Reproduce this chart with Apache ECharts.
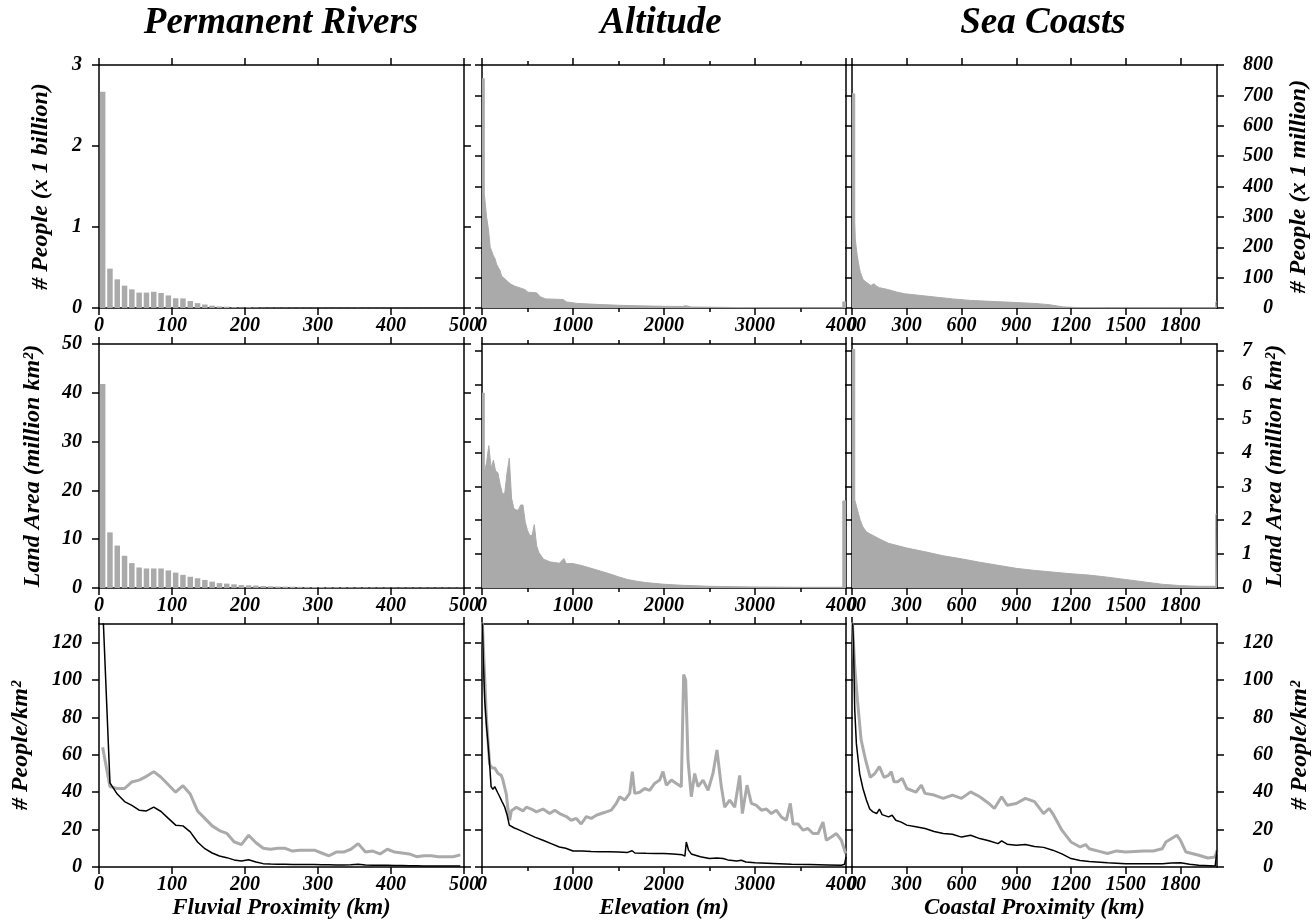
<!DOCTYPE html>
<html>
<head>
<meta charset="utf-8">
<script src="https://cdn.jsdelivr.net/npm/echarts@6/dist/echarts.min.js"></script>
<style>
html, body { margin: 0; background: #fff; }
#chart { width: 1315px; height: 923px; }
</style>
</head>
<body>
<div id="chart"></div>
<script>
// ---- data ----
// Permanent rivers, 10 km bins (centres)
var riverBins = [5, 15, 25, 35, 45, 55, 65, 75, 85, 95, 105, 115, 125, 135, 145, 155, 165, 175, 185, 195,
  205, 215, 225, 235, 245, 255, 265, 275, 285, 295, 305, 315, 325, 335, 345, 355, 365, 375, 385, 395,
  405, 415, 425, 435, 445, 455, 465, 475, 485, 495];
// people, billions
var riverPeople = [2.67, 0.486, 0.354, 0.276, 0.23, 0.19, 0.19, 0.2, 0.185, 0.155, 0.12, 0.118, 0.086, 0.06, 0.043,
  0.029, 0.02, 0.016, 0.01, 0.007, 0.009, 0.0065, 0.004, 0.0033, 0.003, 0.0028, 0.0022, 0.0022, 0.002, 0.0018,
  0.0014, 0.0011, 0.0014, 0.0013, 0.0014, 0.0018, 0.0011, 0.0011, 0.0008, 0.0011, 0.0009, 0.0008, 0.0007,
  0.0006, 0.0005, 0.0005, 0.0005, 0.0005, 0.0004, 0.0005];
// land area, million km2
var riverArea = [41.8, 11.4, 8.7, 6.6, 5.1, 4.2, 4.0, 4.0, 4.0, 3.6, 3.15, 2.7, 2.3, 2.0, 1.65, 1.3, 1.0, 0.9,
  0.75, 0.6, 0.55, 0.5, 0.4, 0.35, 0.3, 0.28, 0.26, 0.24, 0.22, 0.2, 0.19, 0.18, 0.17, 0.16, 0.15, 0.14, 0.14,
  0.13, 0.12, 0.12, 0.11, 0.11, 0.1, 0.1, 0.1, 0.09, 0.09, 0.09, 0.08, 0.08];
// people per km2 (grey = bin density, black = second measure)
var riverDensGrey = [64, 43, 42, 42, 45.5, 46.5, 48.5, 51, 48, 44, 40, 43.5, 39, 30, 26, 22, 19.5, 18, 13.5, 12,
  17, 13, 10, 9.5, 10, 10, 8.5, 9, 9, 9, 7.5, 6, 8, 8, 9.5, 12.5, 8, 8.5, 7, 9.5, 8, 7.5, 7, 5.5, 6, 6, 5.5,
  5.5, 5.5, 6.5];
var riverDensBlack = [140, 45, 39, 35, 33, 30.4, 30, 32, 29.7, 26, 22.4, 22, 18.8, 13.4, 9.8, 7.5, 5.9, 5, 3.8,
  3.2, 3.9, 2.7, 1.8, 1.6, 1.5, 1.5, 1.4, 1.4, 1.3, 1.3, 1.2, 1.2, 1.1, 1.1, 1.2, 1.5, 1.1, 1.0, 0.9, 0.9, 0.8,
  0.8, 0.7, 0.7, 0.6, 0.6, 0.6, 0.5, 0.5, 0.5];

// Altitude (m): histogram outlines (first and last bins drawn as blocks)
var altPeopleX = [0, 25, 25, 50, 70, 90, 105, 125, 145, 160, 180, 200, 215, 255, 290, 320, 360, 470, 505, 600,
  640, 700, 890, 930, 1050, 1250, 1500, 1750, 2000, 2200, 2240, 2300, 2500, 2750, 3000, 3500, 3965, 3965, 4000];
var altPeopleY = [755, 755, 378, 300, 261, 200, 189, 172, 161, 144, 133, 122, 105, 95, 85, 78, 72, 61, 52, 50,
  37, 30, 28, 20, 15, 12, 9, 7, 5.5, 5, 7.7, 3.3, 2.5, 1.8, 1.2, 0.8, 0.8, 20, 20];
var altAreaX = [0, 25, 25, 50, 75, 100, 125, 150, 175, 200, 225, 250, 275, 300, 325, 350, 375, 400, 425, 450,
  475, 500, 525, 550, 575, 600, 625, 650, 675, 750, 800, 850, 900, 925, 1000, 1100, 1200, 1300, 1400, 1500,
  1600, 1700, 1800, 2000, 2200, 2500, 3000, 3500, 3965, 3965, 4000];
var altAreaY = [5.75, 5.75, 3.4, 3.7, 4.2, 3.55, 3.77, 3.45, 3.4, 3.05, 2.77, 2.8, 3.4, 3.83, 2.65, 2.35, 2.3,
  2.3, 2.45, 2.45, 1.95, 1.7, 1.55, 1.55, 1.87, 1.25, 1.05, 0.95, 0.85, 0.77, 0.75, 0.73, 0.87, 0.72, 0.72,
  0.66, 0.58, 0.5, 0.42, 0.33, 0.25, 0.2, 0.16, 0.11, 0.08, 0.05, 0.03, 0.02, 0.02, 2.57, 2.57];
var altGreyX = [0, 48, 84, 110, 140, 176, 212, 230, 267, 285, 304, 322, 377, 450, 487, 542, 597, 670, 744, 800,
  853, 927, 980, 1036, 1090, 1146, 1200, 1256, 1311, 1366, 1421, 1476, 1513, 1568, 1623, 1652, 1678, 1733,
  1787, 1842, 1897, 1952, 1989, 2026, 2081, 2136, 2190, 2216, 2238, 2264, 2300, 2337, 2374, 2429, 2484, 2538,
  2582, 2630, 2667, 2722, 2777, 2832, 2861, 2912, 2960, 3015, 3070, 3125, 3180, 3234, 3289, 3344, 3388, 3418,
  3473, 3527, 3582, 3637, 3692, 3747, 3784, 3839, 3894, 3949, 3996];
var altGreyY = [135, 80, 55, 53, 53, 50, 49, 46.5, 39, 31, 25, 30, 32, 30, 32, 31, 29.5, 31, 28.6, 30.4, 28.6,
  27, 25, 26, 23, 27, 26, 27.7, 28.6, 29.5, 30.4, 34, 37.6, 35.8, 39.4, 51, 39.4, 40, 42, 41, 44.7, 46.5, 51,
  43.8, 46.5, 44.7, 43, 103, 100, 57, 37.6, 50, 43, 46.5, 41, 50, 62.6, 43, 32, 35.8, 32, 49, 28.6, 43.8, 34,
  33, 30.4, 31, 28.6, 30.4, 26.8, 25, 34, 23, 23, 19.7, 20.6, 17.9, 17.9, 24, 14.3, 16, 17.9, 14.3, 7.2];
var altBlackX = [0, 15, 30, 50, 66, 85, 100, 120, 140, 170, 195, 220, 250, 275, 300, 350, 400, 490, 580, 670,
  760, 850, 920, 940, 1000, 1100, 1200, 1300, 1400, 1500, 1600, 1650, 1680, 1700, 1800, 1900, 2000, 2100,
  2200, 2230, 2245, 2270, 2300, 2400, 2500, 2580, 2600, 2650, 2700, 2800, 2850, 2870, 2900, 3000, 3200, 3400,
  3600, 3800, 3950, 3985, 4000];
var altBlackY = [140, 110, 89, 75, 66, 54, 43, 41.5, 43, 40, 37.6, 35, 32, 28, 22.4, 21, 20, 18, 16, 14.3, 12.5,
  10.7, 10, 11, 8.6, 8.5, 8.3, 8.2, 8.1, 8, 7.8, 8.7, 7.5, 7.3, 7.3, 7.2, 7.2, 7, 6.5, 5.8, 13.4, 9, 7, 5.5,
  4.5, 4.8, 5.3, 4.5, 3.8, 3.2, 3.6, 2.8, 2.7, 2.3, 1.9, 1.5, 1.3, 1.1, 0.9, 1.5, 5.4];

// Sea coasts (km)
var coastPeopleX = [0, 15, 15, 18, 24, 29, 35, 40, 46, 53, 60, 68, 82, 104, 120, 135, 150, 196, 242, 287, 379,
  470, 550, 650, 790, 900, 1000, 1080, 1120, 1160, 1220, 1400, 1800, 1993, 1993, 2000];
var coastPeopleY = [705, 705, 283, 228, 194, 172, 150, 133, 117, 106, 94, 89, 83, 74, 80, 72, 67, 61, 53, 47, 41,
  35, 30, 25, 21, 18, 15, 11, 7, 3.5, 1.8, 1.2, 0.9, 0.9, 20, 20];
var coastAreaX = [0, 15, 15, 25, 35, 45, 60, 80, 115, 150, 200, 300, 400, 500, 600, 700, 800, 900, 1000, 1100,
  1200, 1300, 1400, 1500, 1600, 1700, 1800, 1900, 1993, 1993, 2000];
var coastAreaY = [7.04, 7.04, 2.6, 2.4, 2.2, 2.0, 1.8, 1.65, 1.55, 1.45, 1.32, 1.18, 1.07, 0.95, 0.86, 0.76,
  0.67, 0.58, 0.52, 0.47, 0.42, 0.38, 0.32, 0.25, 0.18, 0.11, 0.07, 0.05, 0.05, 2.18, 2.18];
var coastGreyX = [0, 15, 30, 50, 75, 100, 125, 150, 175, 200, 215, 230, 250, 275, 300, 350, 380, 400, 450, 500,
  550, 600, 650, 700, 750, 780, 820, 850, 900, 950, 1000, 1050, 1080, 1100, 1150, 1200, 1250, 1280, 1300, 1350,
  1400, 1450, 1500, 1550, 1600, 1650, 1700, 1720, 1780, 1800, 1830, 1900, 1950, 1990, 2000];
var coastGreyY = [135, 107, 89, 68, 57, 48, 50, 53.7, 48, 49, 51, 45.6, 45.6, 47.4, 42, 40, 43.8, 39.4, 38.5,
  36.7, 38.5, 36.7, 40.2, 37.6, 34, 31.3, 37.6, 33, 34, 36.7, 35, 28.6, 31.3, 28.6, 19.7, 13.4, 10.7, 12, 9.8,
  8.5, 7.2, 8.6, 8, 8.3, 8.6, 8.6, 9.8, 13.4, 17, 14.3, 8, 6.3, 4.8, 5.4, 9];
var coastBlackX = [0, 8, 15, 24, 42, 60, 79, 97, 115, 135, 150, 165, 200, 220, 240, 270, 300, 350, 400, 450,
  500, 550, 600, 650, 700, 750, 800, 820, 850, 900, 950, 1000, 1050, 1100, 1150, 1200, 1250, 1300, 1400, 1500,
  1600, 1700, 1750, 1800, 1850, 1900, 1990, 2000];
var coastBlackY = [140, 120, 84, 66, 50, 42, 35.8, 31, 29.5, 28.6, 31, 28, 26.8, 27.7, 25, 24, 22.4, 21.5, 20.6,
  19, 17.9, 17.5, 16, 17, 15.2, 14, 12.5, 14, 12.2, 11.6, 12, 11, 10.5, 9, 7, 4.5, 3.5, 3, 2.3, 1.8, 1.8, 1.8,
  2.2, 2.3, 1.5, 0.9, 0.5, 9];

// tick positions
var riverTicks = [0, 100, 200, 300, 400, 500];
var altTicks = [0, 1000, 2000, 3000, 4000];
var coastTicks = [0, 300, 600, 900, 1200, 1500, 1800];
var billionTicks = [0, 1, 2, 3];
var millionTicks = [0, 100, 200, 300, 400, 500, 600, 700, 800];
var areaLeftTicks = [0, 10, 20, 30, 40, 50];
var areaRightTicks = [0, 1, 2, 3, 4, 5, 6, 7];
var densTicks = [0, 20, 40, 60, 80, 100, 120];

// ---- chart ----
var FONT = 'Liberation Serif';
var GREY = '#aaaaaa';
function txt(size) {
  return { fontFamily: FONT, fontStyle: 'italic', fontWeight: 'bold', fontSize: size, color: '#000' };
}
function plain(v) { return String(v); }
function zip(xs, ys) { return xs.map(function (x, i) { return [x, ys[i]]; }); }

var cols = [{ left: 99, width: 365 }, { left: 482, width: 364 }, { left: 852, width: 365 }];
var rows = [{ top: 65, height: 243 }, { top: 344, height: 244 }, { top: 624, height: 243 }];

var grids = [], xAxes = [], yAxes = [], series = [];
var axLine = { onZero: false, lineStyle: { color: '#000', width: 1.5 } };
function tick(vals) {
  return { show: true, inside: false, length: 7, customValues: vals, lineStyle: { color: '#000', width: 1.5 } };
}
function xTicks(o) {
  var t = tick(o.xTicks);
  if (o.minor) { delete t.customValues; }
  return t;
}
var minor = { show: true, splitNumber: 2, length: 4, lineStyle: { color: '#000', width: 1.5 } };

function panel(r, c, o) {
  var g = grids.length;
  grids.push({ left: cols[c].left, width: cols[c].width, top: rows[r].top, height: rows[r].height });
  xAxes.push({
    gridIndex: g, type: 'value', position: 'bottom', min: 0, max: o.xMax, interval: o.xStep,
    axisLine: axLine, axisTick: xTicks(o), minorTick: o.minor ? minor : { show: false },
    splitLine: { show: false },
    axisLabel: Object.assign(txt(20), { customValues: o.xTicks, margin: 8, formatter: plain }),
    name: o.xName || '', nameLocation: 'middle', nameGap: 30, nameTextStyle: txt(23)
  });
  xAxes.push({
    gridIndex: g, type: 'value', position: 'top', min: 0, max: o.xMax, interval: o.xStep,
    axisLine: axLine, axisTick: xTicks(o), minorTick: o.minor ? minor : { show: false },
    splitLine: { show: false }, axisLabel: { show: false }
  });
  yAxes.push({
    gridIndex: g, type: 'value', position: 'left', min: 0, max: o.lMax,
    axisLine: axLine, axisTick: tick(o.lTicks), splitLine: { show: false },
    axisLabel: o.lName ? Object.assign(txt(20), { customValues: o.lTicks, margin: 17, formatter: plain }) : { show: false },
    name: o.lName || '', nameLocation: 'middle', nameRotate: 90, nameGap: o.lGap || 0, nameTextStyle: txt(24)
  });
  yAxes.push({
    gridIndex: g, type: 'value', position: 'right', min: 0, max: o.rMax,
    axisLine: axLine, axisTick: tick(o.rTicks), splitLine: { show: false },
    axisLabel: o.rName ? Object.assign(txt(20), { customValues: o.rTicks, margin: o.rMargin, align: o.rAlign, formatter: plain }) : { show: false },
    name: o.rName || '', nameLocation: 'middle', nameRotate: 90, nameGap: o.rGap || 0, nameTextStyle: txt(24)
  });
  return g;
}

function bars(g, yIdx, data) {
  series.push({ type: 'bar', xAxisIndex: 2 * g, yAxisIndex: 2 * g + yIdx, data: data, barWidth: 5.5,
    itemStyle: { color: GREY } });
}
function area(g, yIdx, data) {
  series.push({ type: 'line', xAxisIndex: 2 * g, yAxisIndex: 2 * g + yIdx, data: data,
    symbol: 'none', lineStyle: { color: GREY, width: 1 }, areaStyle: { color: GREY, opacity: 1 } });
}
function line(g, data, color, width) {
  series.push({ type: 'line', xAxisIndex: 2 * g, yAxisIndex: 2 * g, data: data, symbol: 'none',
    lineStyle: { color: color, width: width } });
}

var river = { xMax: 500, xStep: 100, xTicks: riverTicks };
var alt = { xMax: 4000, xStep: 1000, xTicks: altTicks, minor: true };
var coast = { xMax: 2000, xStep: 300, xTicks: coastTicks };

// row 1: people
var g = panel(0, 0, Object.assign({}, river, { lMax: 3, lTicks: billionTicks, rMax: 3, rTicks: billionTicks,
  lName: '# People (x 1 billion)', lGap: 46 }));
bars(g, 0, zip(riverBins, riverPeople));
g = panel(0, 1, Object.assign({}, alt, { lMax: 800, lTicks: millionTicks, rMax: 800, rTicks: millionTicks }));
area(g, 1, zip(altPeopleX, altPeopleY));
g = panel(0, 2, Object.assign({}, coast, { lMax: 800, lTicks: millionTicks, rMax: 800, rTicks: millionTicks,
  rName: '# People (x 1 million)', rGap: 70, rMargin: 56, rAlign: 'right' }));
area(g, 1, zip(coastPeopleX, coastPeopleY));

// row 2: land area
g = panel(1, 0, Object.assign({}, river, { lMax: 50, lTicks: areaLeftTicks, rMax: 50, rTicks: areaLeftTicks,
  lName: 'Land Area (million km\u00b2)', lGap: 54 }));
bars(g, 0, zip(riverBins, riverArea));
g = panel(1, 1, Object.assign({}, alt, { lMax: 7.2, lTicks: areaRightTicks, rMax: 7.2, rTicks: areaRightTicks }));
area(g, 1, zip(altAreaX, altAreaY));
g = panel(1, 2, Object.assign({}, coast, { lMax: 7.2, lTicks: areaRightTicks, rMax: 7.2, rTicks: areaRightTicks,
  rName: 'Land Area (million km\u00b2)', rGap: 46, rMargin: 25, rAlign: 'left' }));
area(g, 1, zip(coastAreaX, coastAreaY));

// row 3: density
g = panel(2, 0, Object.assign({}, river, { lMax: 130, lTicks: densTicks, rMax: 130, rTicks: densTicks,
  lName: '# People/km\u00b2', lGap: 66, xName: 'Fluvial Proximity (km)' }));
line(g, zip(riverBins, riverDensGrey), GREY, 3);
line(g, zip(riverBins, riverDensBlack), '#000', 1.5);
g = panel(2, 1, Object.assign({}, alt, { lMax: 130, lTicks: densTicks, rMax: 130, rTicks: densTicks,
  xName: 'Elevation (m)' }));
line(g, zip(altGreyX, altGreyY), GREY, 3);
line(g, zip(altBlackX, altBlackY), '#000', 1.5);
g = panel(2, 2, Object.assign({}, coast, { lMax: 130, lTicks: densTicks, rMax: 130, rTicks: densTicks,
  rName: '# People/km\u00b2', rGap: 71, rMargin: 56, rAlign: 'right', xName: 'Coastal Proximity (km)' }));
line(g, zip(coastGreyX, coastGreyY), GREY, 3);
line(g, zip(coastBlackX, coastBlackY), '#000', 1.5);

var titles = [['Permanent Rivers', 281], ['Altitude', 661], ['Sea Coasts', 1043]];
var chart = echarts.init(document.getElementById('chart'));
chart.setOption({
  animation: false,
  backgroundColor: '#fff',
  grid: grids,
  xAxis: xAxes,
  yAxis: yAxes,
  series: series,
  graphic: titles.map(function (t) {
    return { type: 'text', x: t[1], y: 23, style: { text: t[0], fontFamily: FONT, fontStyle: 'italic',
      fontWeight: 'bold', fontSize: 37, fill: '#000', align: 'center', verticalAlign: 'middle' } };
  })
});
</script>
</body>
</html>
